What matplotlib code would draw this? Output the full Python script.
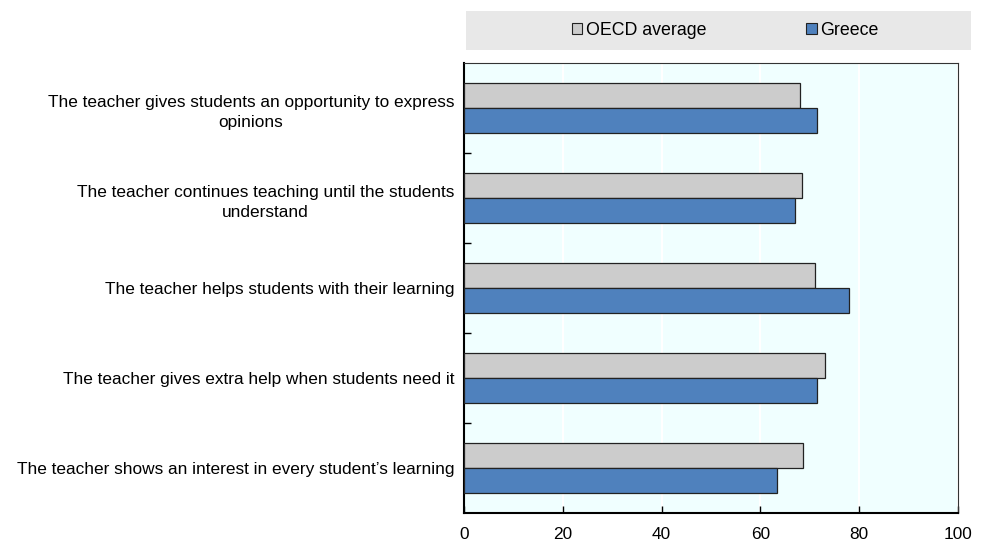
import numpy as np
import matplotlib
matplotlib.use("Agg")
import matplotlib.pyplot as plt
from matplotlib.patches import Rectangle, Patch

plt.rcParams["font.family"] = ["Liberation Sans", "DejaVu Sans"]

# statements, top to bottom as shown
items = [
    "The teacher gives students an opportunity to express\nopinions",
    "The teacher continues teaching until the students\nunderstand",
    "The teacher helps students with their learning",
    "The teacher gives extra help when students need it",
    "The teacher shows an interest in every student\u2019s learning",
]
oecd = [68.1, 68.4, 71.1, 73.1, 68.7]
greece = [71.4, 67.0, 78.0, 71.5, 63.3]

grey = "#CCCCCC"
blue = "#4F81BD"

fig = plt.figure(figsize=(9.98, 5.45), dpi=100)
ax = fig.add_axes([464 / 998, 1 - 513 / 545, (958 - 464) / 998, (513 - 63) / 545])
ax.set_facecolor("#F0FFFF")

y = np.arange(len(items))
h = 0.28
ax.barh(y - h / 2, oecd, height=h, color=grey, edgecolor="#222222", linewidth=0.9, zorder=3)
ax.barh(y + h / 2, greece, height=h, color=blue, edgecolor="#222222", linewidth=0.9, zorder=3)

ax.set_xlim(0, 100)
ax.set_ylim(len(items) - 0.5, -0.5)
ax.set_xticks(np.arange(0, 101, 20))
ax.xaxis.grid(True, color="white", linewidth=1.5, zorder=0)
ax.set_axisbelow(True)

ax.set_yticks(y)
ax.set_yticklabels(items, fontsize=12.4, ha="right", multialignment="center",
                   linespacing=1.45)
ax.tick_params(axis="y", which="major", length=0, pad=7)
ax.set_yticks(np.arange(0.5, len(items) - 1, 1), minor=True)
ax.tick_params(axis="y", which="minor", direction="in", length=5, width=1, color="black")
ax.tick_params(axis="x", direction="in", length=5, width=1, labelsize=12.4, pad=10)

ax.spines["left"].set_linewidth(1.5)
ax.spines["bottom"].set_linewidth(1.5)
ax.spines["top"].set_color("#333333")
ax.spines["right"].set_color("#333333")

# legend band
fig.patches.append(Rectangle((466 / 998, 1 - 50 / 545), (971 - 466) / 998, 39 / 545,
                             transform=fig.transFigure, facecolor="#E8E8E8",
                             edgecolor="none", zorder=0))
handles = [Patch(facecolor=grey, edgecolor="#222222", linewidth=0.8, label="OECD average"),
           Patch(facecolor=blue, edgecolor="#222222", linewidth=0.8, label="Greece")]
fig.legend(handles=handles, loc="center", bbox_to_anchor=(725 / 998, 1 - 30.5 / 545),
           ncol=2, frameon=False, fontsize=12.8, handlelength=0.6, handleheight=0.6,
           handletextpad=0.2, columnspacing=5.6)

fig.savefig("out.png", dpi=100)
